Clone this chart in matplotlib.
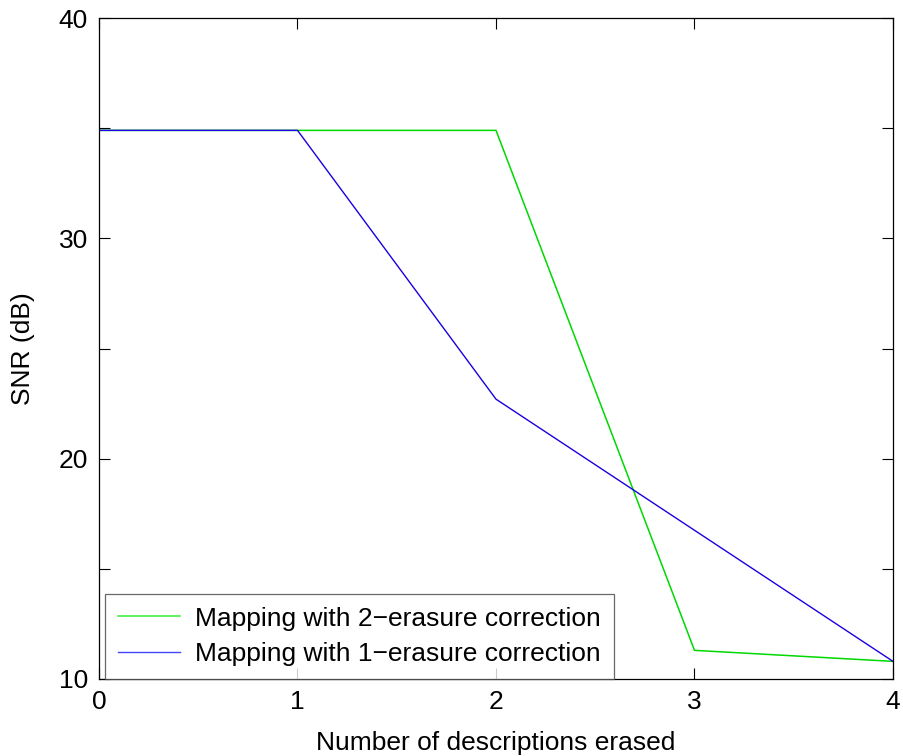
import matplotlib
matplotlib.use("Agg")
import matplotlib.pyplot as plt

plt.rcParams['font.family'] = ['Liberation Sans', 'DejaVu Sans']

erased = [0, 1, 2, 3, 4]
snr_2erasure = [34.9, 34.9, 34.9, 11.3, 10.8]
snr_1erasure = [34.9, 34.9, 22.7, 16.75, 10.8]
labels = ["Mapping with 2\u2212erasure correction", "Mapping with 1\u2212erasure correction"]

fig = plt.figure(figsize=(9.04, 7.56), dpi=100)
ax = fig.add_axes([99 / 904, 77 / 756, 794 / 904, 661 / 756])

ax.plot(erased, snr_2erasure, color='#00d800', lw=1.1, label=labels[0])
ax.plot(erased, snr_1erasure, color='#1a00e0', lw=1.0, label=labels[1])

ax.set_xlim(0, 4)
ax.set_ylim(10, 40)
ax.set_xticks([0, 1, 2, 3, 4])
ax.set_yticks([10, 20, 30, 40])
ax.set_yticks([15, 25, 35], minor=True)
ax.tick_params(which='both', direction='in', top=True, right=True,
               length=8, width=0.8, labelsize=19, pad=8)
for s in ax.spines.values():
    s.set_linewidth(0.9)

ax.set_xlabel("Number of descriptions erased", fontsize=19, labelpad=12)
ax.set_ylabel("SNR (dB)", fontsize=19, labelpad=17)

leg = ax.legend(loc='lower left', bbox_to_anchor=(0.0075, 0.0), fontsize=19,
                frameon=True, fancybox=False, edgecolor='#444444',
                borderaxespad=0.0, handlelength=2.35, handletextpad=0.55,
                labelspacing=0.42, borderpad=0.5)
leg.get_frame().set_linewidth(0.9)
leg.legend_handles[0].set_color('#33ee33')
leg.legend_handles[1].set_color('#4444ff')

fig.savefig("out.png", dpi=100)
